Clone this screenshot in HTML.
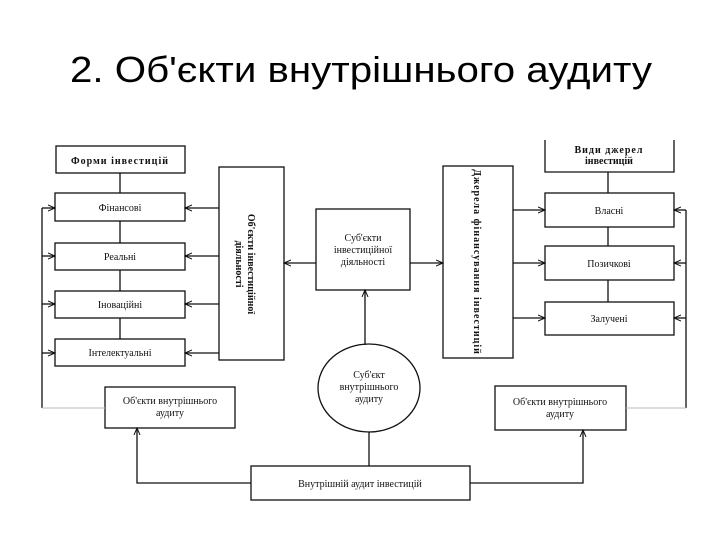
<!DOCTYPE html>
<html><head><meta charset="utf-8"><style>
html,body{margin:0;padding:0;background:#fff;}
svg{display:block;}
text{font-family:"Liberation Serif","DejaVu Serif",serif;fill:#111;}
.t{font-family:"Liberation Sans","DejaVu Sans",sans-serif;fill:#000;}
</style></head><body>
<svg width="720" height="540" viewBox="0 0 720 540" xmlns="http://www.w3.org/2000/svg">
<defs><marker id="a" markerWidth="8" markerHeight="8" refX="7" refY="4" orient="auto" markerUnits="userSpaceOnUse"><path d="M0,1 L7,4 L0,7" fill="none" stroke="#111" stroke-width="1"/></marker></defs>
<text class="t" x="70" y="82" font-size="36" textLength="582" lengthAdjust="spacingAndGlyphs">2. Об'єкти внутрішнього аудиту</text>
<g stroke="#111" stroke-width="1.3" fill="none">
<!-- left column -->
<rect x="56" y="146" width="129" height="27"/>
<rect x="55" y="193" width="130" height="28"/>
<rect x="55" y="243" width="130" height="27"/>
<rect x="55" y="291" width="130" height="27"/>
<rect x="55" y="339" width="130" height="27"/>
<line x1="120" y1="173" x2="120" y2="193"/>
<line x1="120" y1="221" x2="120" y2="243"/>
<line x1="120" y1="270" x2="120" y2="291"/>
<line x1="120" y1="318" x2="120" y2="339"/>
<line x1="42" y1="208" x2="42" y2="408"/>
<line x1="42" y1="208" x2="55" y2="208" marker-end="url(#a)"/>
<line x1="42" y1="256" x2="55" y2="256" marker-end="url(#a)"/>
<line x1="42" y1="304" x2="55" y2="304" marker-end="url(#a)"/>
<line x1="42" y1="353" x2="55" y2="353" marker-end="url(#a)"/>
<rect x="219" y="167" width="65" height="193"/>
<line x1="219" y1="208" x2="185" y2="208" marker-end="url(#a)"/>
<line x1="219" y1="256" x2="185" y2="256" marker-end="url(#a)"/>
<line x1="219" y1="304" x2="185" y2="304" marker-end="url(#a)"/>
<line x1="219" y1="353" x2="185" y2="353" marker-end="url(#a)"/>
<!-- center -->
<rect x="316" y="209" width="94" height="81"/>
<line x1="316" y1="263" x2="284" y2="263" marker-end="url(#a)"/>
<line x1="410" y1="263" x2="443" y2="263" marker-end="url(#a)"/>
<line x1="365" y1="345" x2="365" y2="290" marker-end="url(#a)"/>
<ellipse cx="369" cy="388" rx="51" ry="44"/>
<!-- right -->
<rect x="443" y="166" width="70" height="192"/>
<path d="M545,140 V172 H674 V140"/>
<rect x="545" y="193" width="129" height="34"/>
<rect x="545" y="246" width="129" height="34"/>
<rect x="545" y="302" width="129" height="33"/>
<line x1="608" y1="172" x2="608" y2="193"/>
<line x1="608" y1="227" x2="608" y2="246"/>
<line x1="608" y1="280" x2="608" y2="302"/>
<line x1="513" y1="210" x2="545" y2="210" marker-end="url(#a)"/>
<line x1="513" y1="263" x2="545" y2="263" marker-end="url(#a)"/>
<line x1="513" y1="318" x2="545" y2="318" marker-end="url(#a)"/>
<line x1="686" y1="210" x2="686" y2="408"/>
<line x1="686" y1="210" x2="674" y2="210" marker-end="url(#a)"/>
<line x1="686" y1="263" x2="674" y2="263" marker-end="url(#a)"/>
<line x1="686" y1="318" x2="674" y2="318" marker-end="url(#a)"/>
<!-- bottom -->
<rect x="105" y="387" width="130" height="41"/>
<rect x="495" y="386" width="131" height="44"/>
<rect x="251" y="466" width="219" height="34"/>
<path d="M251,483 H137 V428" marker-end="url(#a)"/>
<path d="M470,483 H583 V430" marker-end="url(#a)"/>
<line x1="369" y1="466" x2="369" y2="432"/>
</g>
<g stroke="#bbb" stroke-width="1"><line x1="42" y1="408" x2="105" y2="408"/><line x1="626" y1="408" x2="686" y2="408"/></g>
<g font-size="10" text-anchor="middle">
<text x="120" y="164" font-weight="bold" letter-spacing="1">Форми інвестицій</text>
<text x="120" y="211">Фінансові</text>
<text x="120" y="260">Реальні</text>
<text x="120" y="308">Іноваційні</text>
<text x="120" y="356">Інтелектуальні</text>
<text x="363" y="241">Суб'єкти</text>
<text x="363" y="253">інвестиційної</text>
<text x="363" y="265">діяльності</text>
<text x="369" y="378">Суб'єкт</text>
<text x="369" y="390">внутрішнього</text>
<text x="369" y="402">аудиту</text>
<text x="609" y="153" font-weight="bold" letter-spacing="1">Види джерел</text>
<text x="609" y="164" font-weight="bold">інвестицій</text>
<text x="609" y="214">Власні</text>
<text x="609" y="267">Позичкові</text>
<text x="609" y="322">Залучені</text>
<text x="170" y="404">Об'єкти внутрішнього</text>
<text x="170" y="416">аудиту</text>
<text x="560" y="405">Об'єкти внутрішнього</text>
<text x="560" y="417">аудиту</text>
<text x="360" y="487">Внутрішній аудит інвестицій</text>
<text transform="translate(248,264) rotate(90)" font-weight="bold">Об'єкти інвестиційної</text>
<text transform="translate(236,264) rotate(90)" font-weight="bold">діяльності</text>
<text transform="translate(474,262) rotate(90)" font-weight="bold" letter-spacing="1">Джерела фінансування інвестицій</text>
</g>
</svg>
</body></html>
